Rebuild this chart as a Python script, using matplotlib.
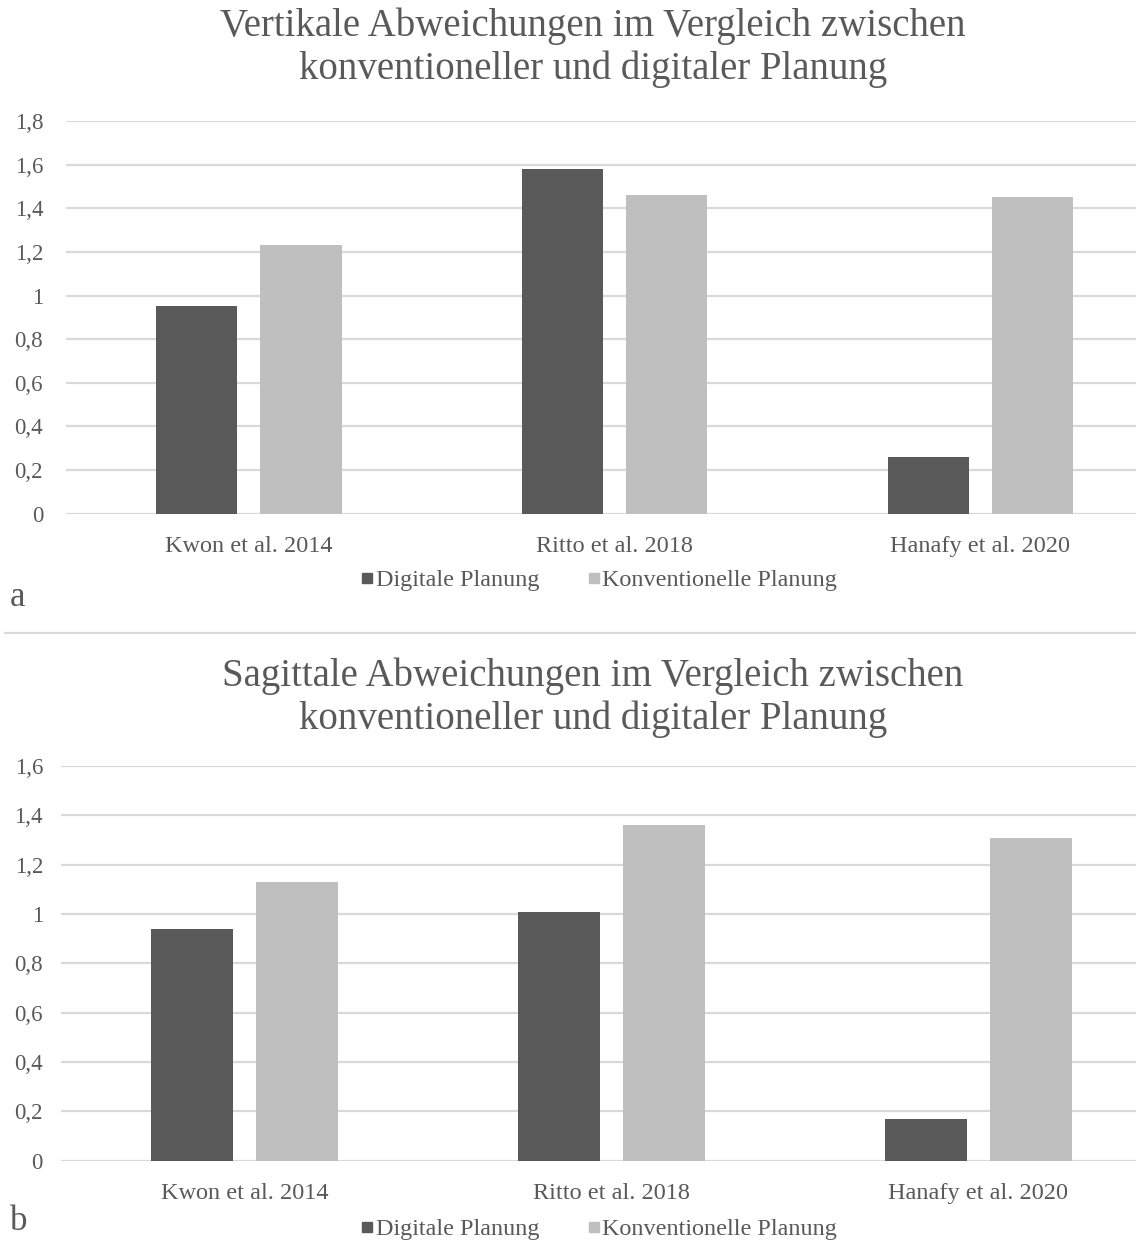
import numpy as np
import matplotlib.pyplot as plt
from matplotlib.lines import Line2D

studies = ['Kwon et al. 2014', 'Ritto et al. 2018', 'Hanafy et al. 2020']
series = ['Digitale Planung', 'Konventionelle Planung']

vertical_digital = [0.95, 1.58, 0.26]
vertical_conventional = [1.23, 1.46, 1.45]
sagittal_digital = [0.94, 1.01, 0.17]
sagittal_conventional = [1.13, 1.36, 1.31]

vertical_ticks = [0, 0.2, 0.4, 0.6, 0.8, 1, 1.2, 1.4, 1.6, 1.8]
sagittal_ticks = [0, 0.2, 0.4, 0.6, 0.8, 1, 1.2, 1.4, 1.6]

DARK = '#595959'
LIGHT = '#bfbfbf'
GRID = '#d9d9d9'
TEXT = '#595959'

plt.rcParams['font.family'] = ['Liberation Serif', 'DejaVu Serif']

W, H = 1136, 1240
fig = plt.figure(figsize=(W / 100, H / 100), dpi=100)


def px_axes(left, right, top, bottom):
    return fig.add_axes([left / W, 1 - bottom / H, (right - left) / W, (bottom - top) / H])


def tick_fmt(v):
    return f'{v:g}'.replace('.', ',')


def draw_panel(ax, digital, conventional, ticks, title_y, title, legend_y, letter, letter_y, pad):
    x = np.arange(len(studies))
    w = 0.223
    off = 0.1425
    ax.bar(x - off, digital, w, color=DARK, zorder=3)
    ax.bar(x + off, conventional, w, color=LIGHT, zorder=3)
    ax.set_xlim(-0.5, len(studies) - 0.5)
    ax.set_ylim(0, ticks[-1])
    ax.set_yticks(ticks)
    ax.set_yticklabels([tick_fmt(t) for t in ticks])
    ax.set_xticks(x)
    ax.set_xticklabels(studies)
    ax.tick_params(axis='y', length=0, pad=pad, labelsize=16.5, labelcolor=TEXT)
    ax.tick_params(axis='x', length=0, pad=16, labelsize=17.5, labelcolor=TEXT)
    ax.grid(axis='y', color=GRID, lw=1.6, zorder=0)
    for s in ax.spines.values():
        s.set_visible(False)

    fig.text(593 / W, 1 - title_y / H, title, ha='center', va='center',
             fontsize=28, color=TEXT, linespacing=1.2)
    handles = [Line2D([], [], ls='none', marker='s', markersize=7.5, color=c)
               for c in (DARK, LIGHT)]
    fig.legend(handles, series, loc='center', bbox_to_anchor=(599 / W, 1 - legend_y / H),
               ncol=2, frameon=False, fontsize=17.4, labelcolor=TEXT,
               handlelength=0.5, handletextpad=0.1, columnspacing=2.0)
    fig.text(10 / W, 1 - letter_y / H, letter, ha='left', va='center',
             fontsize=25, color=TEXT)


ax_top = px_axes(65.7, 1163.4, 121, 513.7)
draw_panel(ax_top, vertical_digital, vertical_conventional, vertical_ticks, 48,
           'Vertikale Abweichungen im Vergleich zwischen\nkonventioneller und digitaler Planung',
           580, 'a', 597, 16.3)

ax_bot = px_axes(61, 1162, 766, 1160.7)
draw_panel(ax_bot, sagittal_digital, sagittal_conventional, sagittal_ticks, 698,
           'Sagittale Abweichungen im Vergleich zwischen\nkonventioneller und digitaler Planung',
           1229, 'b', 1221, 13)

# separator between the two panels
fig.add_artist(Line2D([5 / W, 1], [1 - 633 / H] * 2, color=GRID, lw=1.6))

fig.savefig('out.png', dpi=100, facecolor='white')
